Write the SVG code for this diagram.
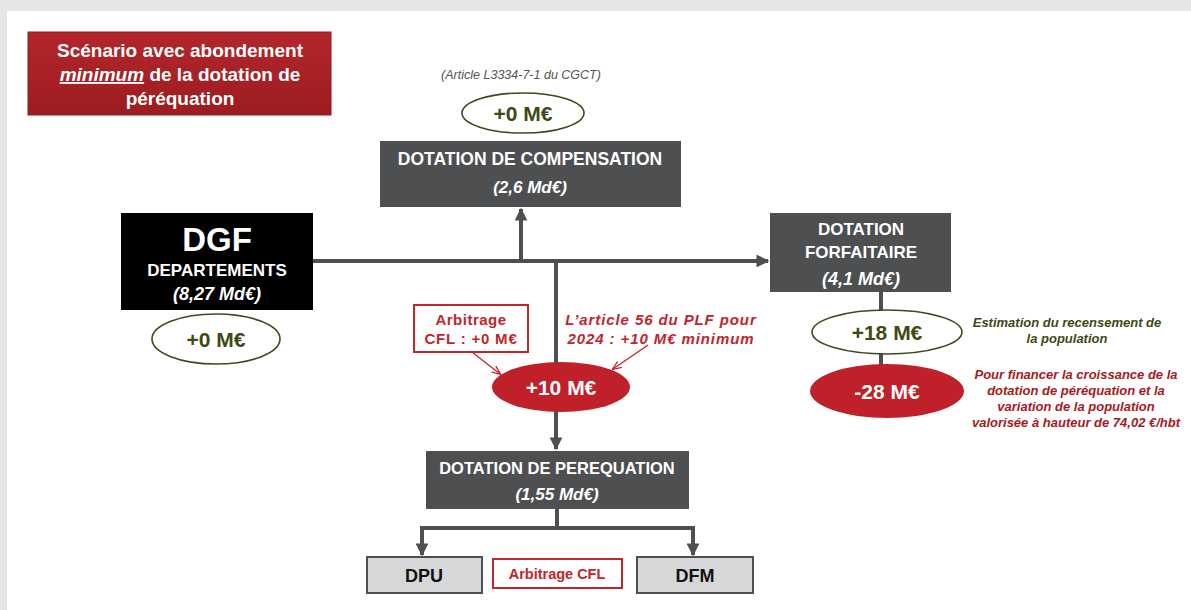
<svg xmlns="http://www.w3.org/2000/svg" width="1191" height="610" viewBox="0 0 1191 610">
  <defs>
    <linearGradient id="titleFill" x1="0" y1="0" x2="0" y2="1">
      <stop offset="0" stop-color="#b3262b"/>
      <stop offset="1" stop-color="#9c1c20"/>
    </linearGradient>
    <marker id="arrow" viewBox="0 0 10 10" refX="9" refY="5" markerWidth="3.2" markerHeight="3.2" orient="auto" markerUnits="strokeWidth">
      <path d="M0,0 L10,5 L0,10 Z" fill="#4d4f51"/>
    </marker>
    <marker id="arrowRed" viewBox="0 0 10 10" refX="9" refY="5" markerWidth="7" markerHeight="7" orient="auto" markerUnits="strokeWidth">
      <path d="M0,1 L10,5 L0,9" fill="none" stroke="#c0262c" stroke-width="1.4"/>
    </marker>
  </defs>
  <style>
    text { font-family: "Liberation Sans", Arial, sans-serif; text-anchor: middle; }
    .box { fill: #4d4f51; }
    .wt { fill: #ffffff; font-weight: bold; }
    .it { font-style: italic; }
    .conn { stroke: #4d4f51; stroke-width: 4; fill: none; }
    .thin { stroke: #c0262c; stroke-width: 1.3; fill: none; }
    .ovG { fill: #ffffff; stroke: #3e4a1e; stroke-width: 1.6; }
    .ovR { fill: #c0202a; }
    .gtx { fill: #3e4a14; font-weight: bold; }
    .rbox { fill: #ffffff; stroke: #c0262c; stroke-width: 2; }
    .rtx { fill: #c0262c; font-weight: bold; }
    .note { fill: #a8191e; font-weight: bold; font-style: italic; font-size: 13px; }
    .sub { fill: #d6d7d8; stroke: #4d4f51; stroke-width: 2; }
  </style>

  <!-- page background -->
  <rect x="0" y="0" width="1191" height="610" fill="#e4e5e7"/>
  <rect x="7" y="11" width="1184" height="599" fill="#ffffff"/>

  <!-- title banner -->
  <g id="title">
    <rect x="28" y="32" width="303" height="83" fill="url(#titleFill)" stroke="#8a1a1d" stroke-width="1"/>
    <text class="wt" x="180" y="57" font-size="19">Scénario avec abondement</text>
    <text class="wt" x="180" y="81" font-size="19"><tspan font-style="italic" text-decoration="underline">minimum</tspan> de la dotation de</text>
    <text class="wt" x="180" y="105" font-size="19">péréquation</text>
  </g>

  <!-- connectors -->
  <g id="connectors">
    <line class="conn" x1="313" y1="261" x2="768" y2="261" marker-end="url(#arrow)"/>
    <line class="conn" x1="521" y1="261" x2="521" y2="209" marker-end="url(#arrow)"/>
    <line class="conn" x1="556" y1="261" x2="556" y2="449" marker-end="url(#arrow)"/>
    <line class="conn" x1="881" y1="292" x2="881" y2="366"/>
    <path class="conn" d="M557,509 V528"/>
    <path class="conn" d="M559,528 H422 V555" marker-end="url(#arrow)"/>
    <path class="conn" d="M555,528 H693 V555" marker-end="url(#arrow)"/>
    <line class="thin" x1="472" y1="352" x2="500" y2="374" marker-end="url(#arrowRed)"/>
    <line class="thin" x1="648" y1="345" x2="613" y2="369" marker-end="url(#arrowRed)"/>
  </g>

  <g id="dgf">
    <rect x="121" y="213" width="192" height="97" fill="#000000"/>
    <text class="wt" x="217" y="251" font-size="33">DGF</text>
    <text class="wt" x="217" y="276" font-size="17">DEPARTEMENTS</text>
    <text class="wt it" x="217" y="300" font-size="18">(8,27 Md€)</text>
  </g>
  <g id="dgf-delta">
    <ellipse class="ovG" cx="216" cy="339" rx="64" ry="25"/>
    <text class="gtx" x="216" y="347" font-size="21">+0 M€</text>
  </g>

  <g id="compensation-ref">
    <text class="it" x="521" y="79" font-size="12.5" fill="#555555">(Article L3334-7-1 du CGCT)</text>
  </g>
  <g id="compensation-delta">
    <ellipse class="ovG" cx="523" cy="113" rx="61" ry="20"/>
    <text class="gtx" x="523" y="121" font-size="21">+0 M€</text>
  </g>
  <g id="compensation">
    <rect class="box" x="380" y="141" width="301" height="66"/>
    <text class="wt" x="530" y="165" font-size="17.5">DOTATION DE COMPENSATION</text>
    <text class="wt it" x="530" y="193" font-size="17">(2,6 Md€)</text>
  </g>

  <g id="forfaitaire">
    <rect class="box" x="770" y="213" width="181" height="79"/>
    <text class="wt" x="861" y="235" font-size="17">DOTATION</text>
    <text class="wt" x="861" y="258" font-size="17">FORFAITAIRE</text>
    <text class="wt it" x="861" y="285" font-size="18">(4,1 Md€)</text>
  </g>
  <g id="forfaitaire-plus">
    <ellipse class="ovG" cx="887" cy="332" rx="75" ry="22"/>
    <text class="gtx" x="887" y="340" font-size="21">+18 M€</text>
  </g>
  <g id="forfaitaire-plus-note">
    <text class="gtx it" x="1067" y="327" font-size="13">Estimation du recensement de</text>
    <text class="gtx it" x="1067" y="343" font-size="13">la population</text>
  </g>
  <g id="forfaitaire-minus">
    <ellipse class="ovR" cx="887" cy="391" rx="77" ry="27"/>
    <text class="wt" x="887" y="399" font-size="21">-28 M€</text>
  </g>
  <g id="forfaitaire-minus-note">
    <text class="note" x="1076" y="379">Pour financer la croissance de la</text>
    <text class="note" x="1076" y="395">dotation de péréquation et la</text>
    <text class="note" x="1076" y="411">variation de la population</text>
    <text class="note" x="1076" y="427">valorisée à hauteur de 74,02 €/hbt</text>
  </g>

  <g id="arbitrage-cfl">
    <rect class="rbox" x="414" y="305" width="114" height="47"/>
    <text class="rtx" x="471" y="325" font-size="15" letter-spacing="0.5">Arbitrage</text>
    <text class="rtx" x="471" y="344" font-size="15" letter-spacing="0.8">CFL : +0 M€</text>
  </g>
  <g id="plf-note">
    <text class="rtx it" x="661" y="325" font-size="15" letter-spacing="0.9">L’article 56 du PLF pour</text>
    <text class="rtx it" x="661" y="344" font-size="15" letter-spacing="0.9">2024 : +10 M€ minimum</text>
  </g>
  <g id="perequation-delta">
    <ellipse class="ovR" cx="561" cy="387" rx="69" ry="25"/>
    <text class="wt" x="561" y="395" font-size="21">+10 M€</text>
  </g>

  <g id="perequation">
    <rect class="box" x="426" y="451" width="263" height="58"/>
    <text class="wt" x="557" y="474" font-size="16.5">DOTATION DE PEREQUATION</text>
    <text class="wt it" x="557" y="500" font-size="17">(1,55 Md€)</text>
  </g>

  <g id="dpu">
    <rect class="sub" x="367" y="557" width="115" height="36"/>
    <text x="424" y="582" font-size="18" font-weight="bold" fill="#111111">DPU</text>
  </g>
  <g id="arbitrage-cfl-2">
    <rect class="rbox" x="493" y="559" width="129" height="29"/>
    <text class="rtx" x="557" y="579" font-size="14.5">Arbitrage CFL</text>
  </g>
  <g id="dfm">
    <rect class="sub" x="637" y="557" width="116" height="36"/>
    <text x="695" y="582" font-size="18" font-weight="bold" fill="#111111">DFM</text>
  </g>
</svg>
